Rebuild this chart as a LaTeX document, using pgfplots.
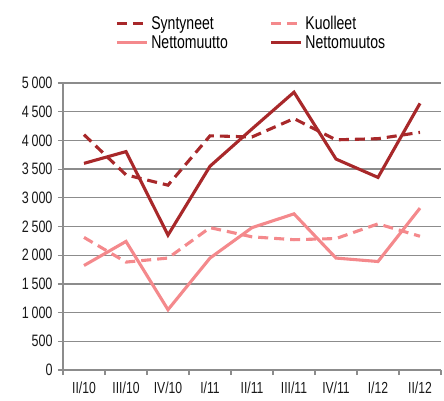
\documentclass[border=0pt]{standalone}
\usepackage{pgfplots}
\pgfplotsset{compat=1.18}
\usepackage{fontspec}
\setmainfont{Liberation Sans}[FakeStretch=0.76]
\definecolor{dred}{HTML}{A8282A}
\definecolor{lred}{HTML}{F4898C}
\definecolor{gridg}{HTML}{8C8C8C}
\begin{document}
\begin{tikzpicture}
\begin{axis}[
  at={(0,0)}, anchor=south west,
  scale only axis, width=378bp, height=287bp,
  xmin=-0.5, xmax=8.5, ymin=0, ymax=5000,
  axis x line*=bottom, axis y line*=left,
  axis line style={gridg, line width=1.2bp, -},
  xtick={0,...,8},
  xticklabels={II/10,III/10,IV/10,I/11,II/11,III/11,IV/11,I/12,II/12},
  major x tick style={draw=none},
  minor xtick={-0.5,0.5,...,8.5},
  minor x tick style={gridg, line width=1.2bp},
  minor tick length=5bp,
  ytick={0,500,...,5000},
  major tick length=5bp,
  y tick style={gridg, line width=1.2bp},
  tick align=outside,
  ymajorgrids, major grid style={gridg, line width=1.3bp},
  yticklabel style={font=\fontsize{16.5bp}{18bp}\selectfont, text=black!90, xshift=-2bp},
  xticklabel style={font=\fontsize{16bp}{18bp}\selectfont, text=black!90, yshift=-3bp},
  /pgf/number format/assume math mode=true,
  /pgf/number format/1000 sep={\,},
  scaled y ticks=false,
  legend columns=2,
  legend style={draw=none, fill=none, at={(52bp,337bp)}, anchor=west, inner sep=0pt,
    nodes={inner sep=1bp, anchor=west, text width=115bp, font=\fontsize{18.5bp}{20bp}\selectfont},
    row sep=3bp, column sep=2bp},
  legend image code/.code={\draw[#1] (0bp,0bp) -- (30bp,0bp);},
  every axis plot/.append style={line width=3.1bp, line join=miter},
]
\addplot[dred, dash pattern=on 10bp off 6bp] coordinates {(0,4100)(1,3400)(2,3220)(3,4080)(4,4060)(5,4380)(6,4010)(7,4030)(8,4140)};
\addlegendentry{Syntyneet}
\addplot[lred, dash pattern=on 10bp off 6bp] coordinates {(0,2310)(1,1880)(2,1950)(3,2480)(4,2320)(5,2270)(6,2290)(7,2546)(8,2330)};
\addlegendentry{Kuolleet}
\addplot[lred] coordinates {(0,1820)(1,2240)(2,1050)(3,1950)(4,2480)(5,2720)(6,1950)(7,1890)(8,2820)};
\addlegendentry{Nettomuutto}
\addplot[dred] coordinates {(0,3600)(1,3805)(2,2350)(3,3550)(4,4200)(5,4840)(6,3675)(7,3355)(8,4645)};
\addlegendentry{Nettomuutos}
\end{axis}
\pgfresetboundingbox
\useasboundingbox (-63bp,-31bp) rectangle (381bp,370bp);
\end{tikzpicture}
\end{document}
